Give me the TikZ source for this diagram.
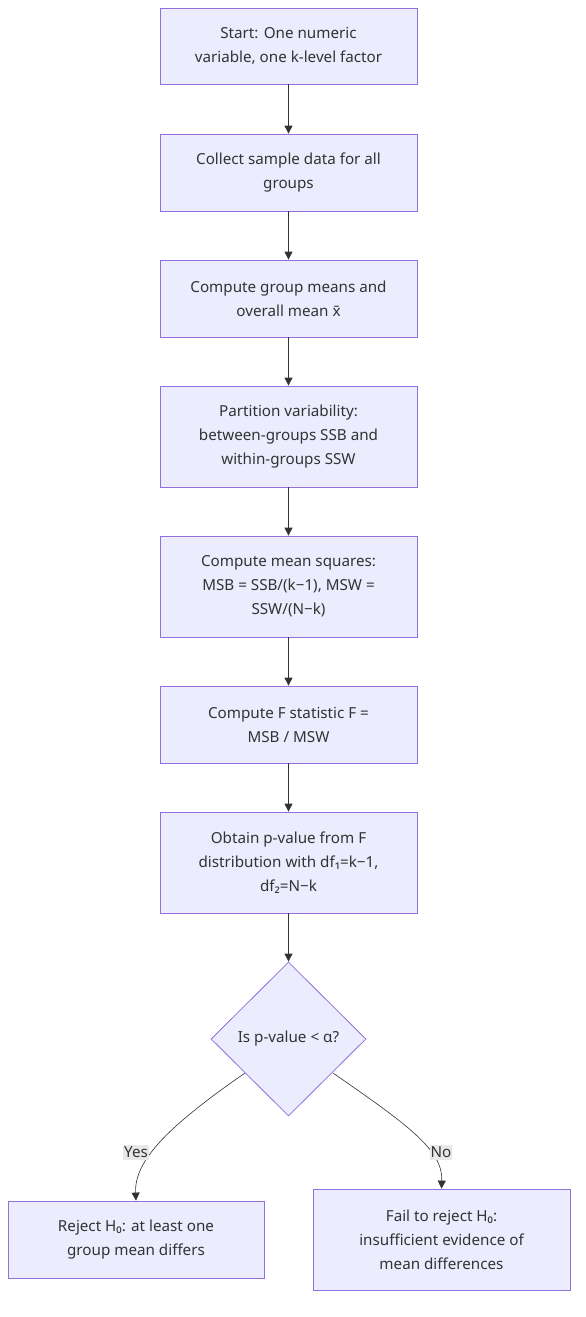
\documentclass[tikz,border=0pt]{standalone}
\usepackage{fontspec}
\setmainfont{Noto Sans}
\usetikzlibrary{shapes.geometric,arrows.meta}
\definecolor{boxfill}{HTML}{ECECFF}
\definecolor{boxline}{HTML}{9370DB}
\definecolor{txt}{HTML}{333333}
\definecolor{lblbg}{HTML}{E8E8E8}
\tikzset{
  stepbox/.style={draw=boxline, fill=boxfill, line width=0.8pt, minimum width=257pt, align=center, text=txt, font=\fontsize{15.2}{24}\selectfont, inner sep=0pt},
  decide/.style={diamond, draw=boxline, fill=boxfill, line width=0.8pt, minimum width=155pt, minimum height=154pt, aspect=1, align=center, text=txt, font=\fontsize{15.2}{24}\selectfont, inner sep=0pt},
  flow/.style={draw=txt, line width=1pt, -{Triangle[length=8pt,width=8pt]}},
  curved/.style={draw=txt, line width=0.6pt, -{Triangle[length=8pt,width=8pt]}},
  lbl/.style={fill=lblbg, text=txt, font=\fontsize{15.2}{18}\selectfont, inner xsep=1pt, inner ysep=2pt}
}
\begin{document}
\begin{tikzpicture}[x=1pt,y=-1pt]
\useasboundingbox (0,0) rectangle (586,1317);
\node[stepbox, minimum height=76pt] (n1) at (288.5,46) {Start: One numeric\\variable, one k-level factor};
\node[stepbox, minimum height=77pt] (n2) at (288.5,172.5) {Collect sample data for all\\groups};
\node[stepbox, minimum height=77pt] (n3) at (288.5,298.5) {Compute group means and\\overall mean x̄};
\node[stepbox, minimum height=101pt] (n4) at (288.5,436.5) {Partition variability:\\between-groups SSB and\\within-groups SSW};
\node[stepbox, minimum height=101pt] (n5) at (288.5,586.5) {Compute mean squares:\\MSB = SSB/(k−1), MSW =\\SSW/(N−k)};
\node[stepbox, minimum height=77pt] (n6) at (288.5,724.5) {Compute F statistic F =\\MSB / MSW};
\node[stepbox, minimum height=101pt] (n7) at (288.5,862.5) {Obtain p-value from F\\distribution with df₁=k−1,\\df₂=N−k};
\node[decide] (d) at (288.5,1039) {Is p-value < α?};
\node[stepbox, minimum width=256pt, minimum height=77pt] (y) at (136,1239.5) {Reject H₀: at least one\\group mean differs};
\node[stepbox, minimum height=101pt] (no) at (441.5,1239.5) {Fail to reject H₀:\\insufficient evidence of\\mean differences};
\draw[flow] (n1) -- (n2);
\draw[flow] (n2) -- (n3);
\draw[flow] (n3) -- (n4);
\draw[flow] (n4) -- (n5);
\draw[flow] (n5) -- (n6);
\draw[flow] (n6) -- (n7);
\draw[flow] (n7) -- (d);
\coordinate (dl) at (245,1073);
\coordinate (dr) at (333,1073);
\draw[curved] (dl) .. controls (170,1125) and (134,1160) .. (y.north);
\draw[curved] (dr) .. controls (408,1125) and (443,1150) .. (no.north);
\node[lbl] (ly) at (136,1152) {Yes};
\node[lbl] (ln) at (441,1152) {No};
\end{tikzpicture}
\end{document}
